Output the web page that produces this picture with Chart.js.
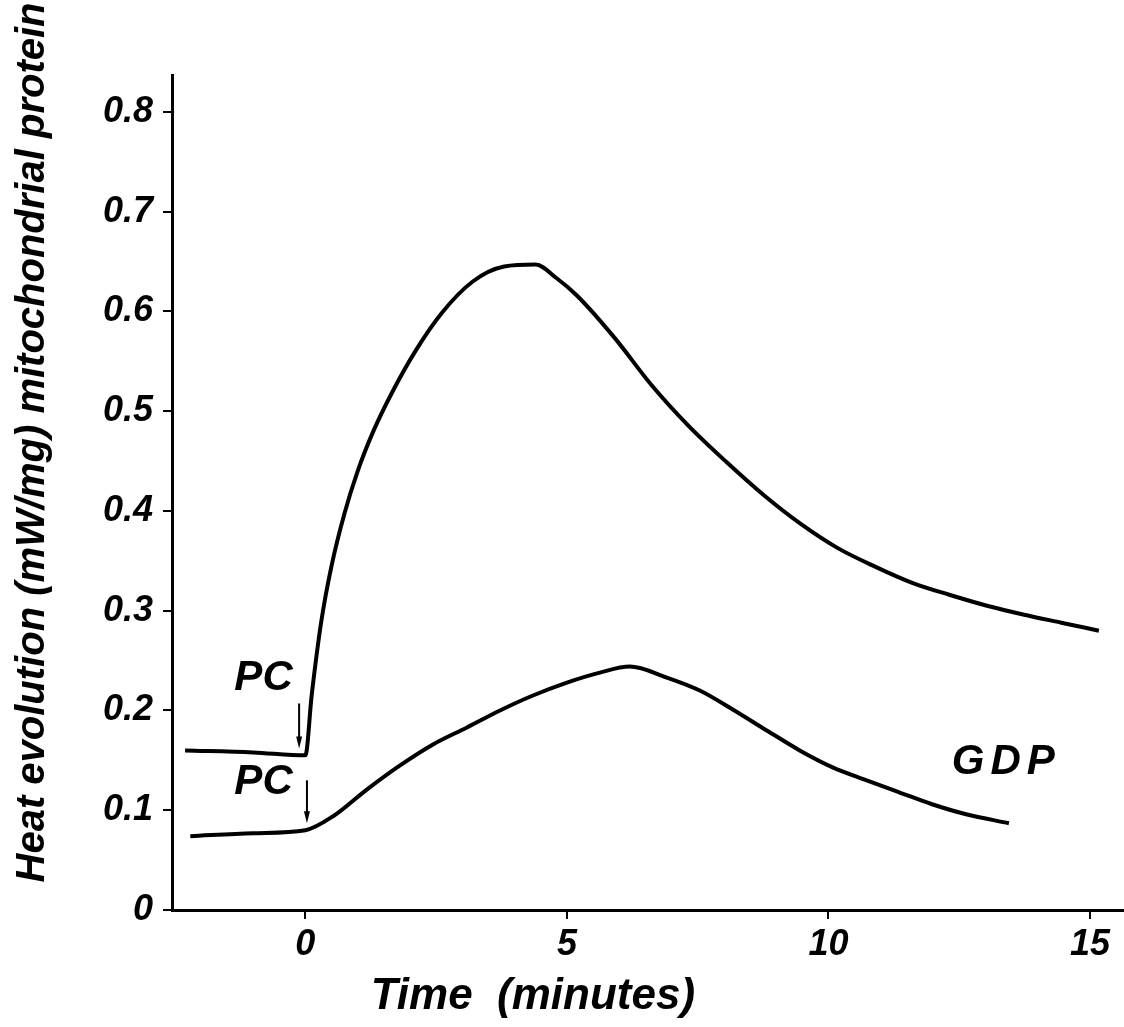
<!DOCTYPE html>
<html>
<head>
<meta charset="utf-8">
<style>
  html, body { margin: 0; padding: 0; background: #fff; }
  #wrap { width: 1124px; height: 1027px; position: relative; }
</style>
<script src="https://cdn.jsdelivr.net/npm/chart.js@4.4.1/dist/chart.umd.min.js"></script>
</head>
<body>
<div id="wrap"><canvas id="c" width="1124" height="1027"></canvas></div>
<script>
// ---- Data ----
const upperTime  = [-2.3, -1.0, 0.0, 0.12, 0.3, 0.5, 0.75, 1.0, 1.3, 1.65, 2.1, 2.6, 3.2, 3.8, 4.4, 4.81, 5.19, 5.92, 6.62, 7.33, 8.05, 8.76, 9.47, 10.17, 10.9, 11.6, 12.31, 13.03, 13.74, 14.45, 15.17];
const upperHeat  = [0.160, 0.158, 0.155, 0.215, 0.288, 0.345, 0.398, 0.440, 0.480, 0.518, 0.560, 0.598, 0.630, 0.645, 0.647, 0.633, 0.616, 0.573, 0.526, 0.485, 0.449, 0.416, 0.387, 0.363, 0.344, 0.328, 0.316, 0.305, 0.296, 0.288, 0.280];
const lowerTime  = [-2.2, -1.0, 0.0, 0.53, 1.18, 1.81, 2.44, 3.09, 3.72, 4.35, 5.0, 5.63, 6.2, 6.91, 7.54, 8.17, 8.82, 9.45, 10.08, 10.73, 11.35, 11.98, 12.63, 13.45];
const lowerHeat  = [0.074, 0.077, 0.080, 0.094, 0.121, 0.145, 0.166, 0.183, 0.200, 0.215, 0.228, 0.238, 0.244, 0.233, 0.220, 0.201, 0.180, 0.160, 0.143, 0.130, 0.118, 0.106, 0.096, 0.087];
const xTickValues = [0, 5, 10, 15];
const yTickValues = [0, 0.1, 0.2, 0.3, 0.4, 0.5, 0.6, 0.7, 0.8];
const yTickLabels = ['0', '0.1', '0.2', '0.3', '0.4', '0.5', '0.6', '0.7', '0.8'];
const xTitle = 'Time  (minutes)';
const yTitle = 'Heat evolution (mW/mg) mitochondrial protein';
// annotations: [text, time, heat]
const labelNotes = [['PC', -0.8, 0.232], ['PC', -0.8, 0.128], ['GDP', 13.4, 0.148]];
// arrows: [time, heatFrom, heatTo]
const arrowNotes = [[-0.12, 0.207, 0.162], [0.03, 0.130, 0.087]];

const FONT = '"Liberation Sans", Arial, sans-serif';

const pts = (xs, ys) => xs.map((x, i) => ({ x: x, y: ys[i] }));

const notesPlugin = {
  id: 'notes',
  afterDraw(chart) {
    const ctx = chart.ctx, xs = chart.scales.x, ys = chart.scales.y;
    ctx.save();
    ctx.fillStyle = '#000';
    ctx.strokeStyle = '#000';
    ctx.textAlign = 'center';
    ctx.textBaseline = 'middle';
    labelNotes.forEach(([t, x, y]) => {
      ctx.font = 'italic bold 42px ' + FONT;
      ctx.letterSpacing = t === 'GDP' ? '6px' : '0px';
      ctx.fillText(t, xs.getPixelForValue(x), ys.getPixelForValue(y));
    });
    ctx.letterSpacing = '0px';
    arrowNotes.forEach(([x, y0, y1]) => {
      const px = xs.getPixelForValue(x), p0 = ys.getPixelForValue(y0), p1 = ys.getPixelForValue(y1);
      ctx.lineWidth = 2;
      ctx.beginPath(); ctx.moveTo(px, p0); ctx.lineTo(px, p1 - 8); ctx.stroke();
      ctx.beginPath(); ctx.moveTo(px - 3, p1 - 12); ctx.lineTo(px + 3, p1 - 12); ctx.lineTo(px, p1); ctx.closePath(); ctx.fill();
    });
    ctx.font = 'italic bold 44px ' + FONT;
    ctx.fillText(xTitle, xs.getPixelForValue(4.35), xs.bottom - 30);
    ctx.translate(33, (ys.top + ys.bottom) / 2 - 50);
    ctx.rotate(-Math.PI / 2);
    ctx.font = 'italic bold 40px ' + FONT;
    ctx.fillText(yTitle, 0, 0);
    ctx.restore();
  }
};

new Chart(document.getElementById('c'), {
  type: 'line',
  data: {
    datasets: [
      { data: pts(upperTime, upperHeat), borderColor: '#000', borderWidth: 4, pointRadius: 0, cubicInterpolationMode: 'monotone', fill: false },
      { data: pts(lowerTime, lowerHeat), borderColor: '#000', borderWidth: 4, pointRadius: 0, cubicInterpolationMode: 'monotone', fill: false }
    ]
  },
  options: {
    responsive: false,
    animation: false,
    events: [],
    layout: { padding: { top: 75, right: 0, left: 0, bottom: 0 } },
    plugins: { legend: { display: false }, tooltip: { enabled: false } },
    scales: {
      x: {
        type: 'linear', min: -2.55, max: 15.65,
        afterBuildTicks: s => { s.ticks = xTickValues.map(v => ({ value: v })); },
        afterFit: s => { s.height = 117; },
        border: { color: '#000', width: 3 },
        grid: { display: true, drawOnChartArea: false, drawTicks: true, tickLength: 9, color: '#000', lineWidth: 2 },
        ticks: { color: '#000', font: { family: FONT, size: 36, style: 'italic', weight: 'bold' }, padding: 4, maxRotation: 0 }
      },
      y: {
        type: 'linear', min: 0, max: 0.837,
        afterBuildTicks: s => { s.ticks = yTickValues.map(v => ({ value: v })); },
        afterFit: s => { s.width = 172; },
        border: { color: '#000', width: 3 },
        grid: { display: true, drawOnChartArea: false, drawTicks: true, tickLength: 9, color: '#000', lineWidth: 2 },
        ticks: { color: '#000', font: { family: FONT, size: 36, style: 'italic', weight: 'bold' }, padding: 10,
                 callback: (v) => yTickLabels[yTickValues.indexOf(v)] ?? '' }
      }
    }
  },
  plugins: [notesPlugin]
});
</script>
</body>
</html>
